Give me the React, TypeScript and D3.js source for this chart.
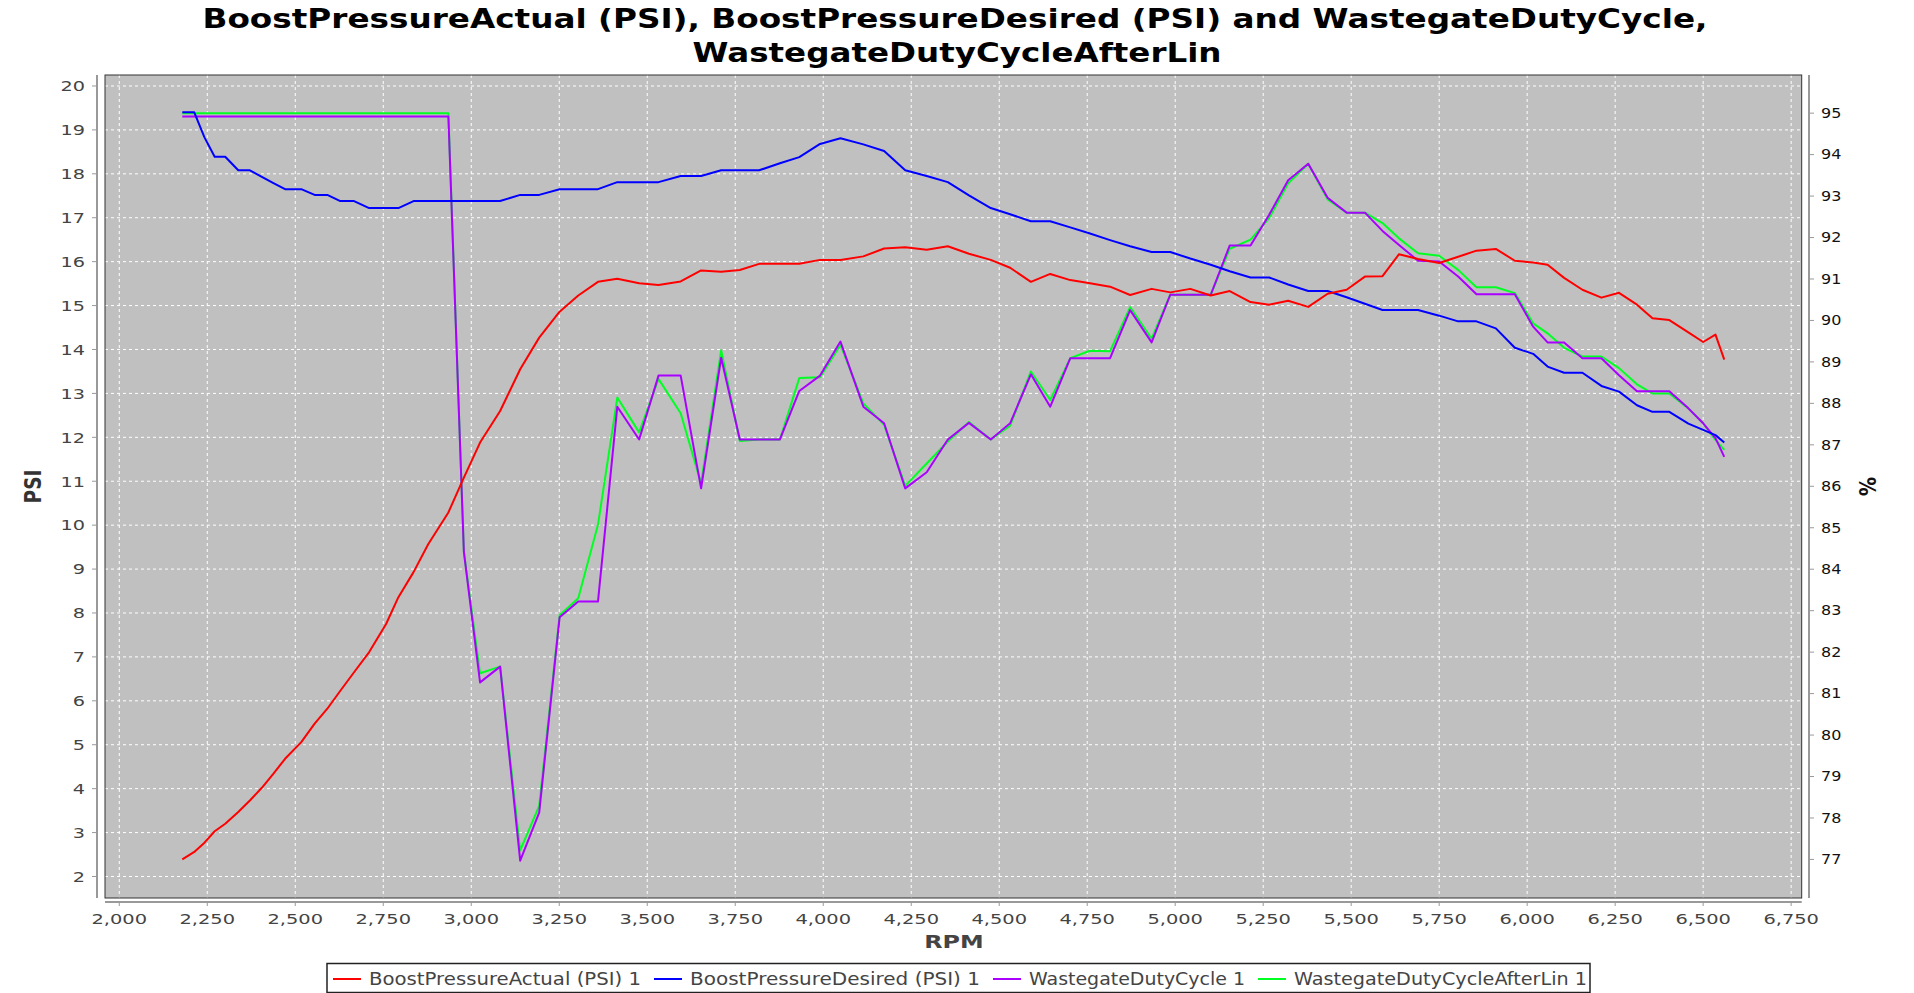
import * as d3 from "d3";
import * as React from "react";

// engine speed samples shared by every series
const rpm = [
  2179, 2213, 2242, 2271, 2301, 2338, 2371, 2405, 2438, 2471,
  2517, 2555, 2591, 2628, 2667, 2710, 2758, 2793, 2836, 2878,
  2935, 2979, 3025, 3082, 3139, 3193, 3251, 3304, 3360, 3415,
  3477, 3532, 3595, 3653, 3710, 3763, 3818, 3877, 3932, 3991,
  4049, 4114, 4173, 4233, 4294, 4354, 4414, 4476, 4531, 4590,
  4645, 4702, 4758, 4815, 4872, 4933, 4986, 5043, 5101, 5155,
  5214, 5267, 5321, 5378, 5433, 5487, 5539, 5589, 5636, 5690,
  5750, 5804, 5856, 5911, 5965, 6017, 6058, 6105, 6157, 6211,
  6261, 6312, 6356, 6404, 6458, 6500, 6535, 6560,
];

const boostActual = [
  2.39, 2.56, 2.77, 3.03, 3.2, 3.47, 3.73, 4.02, 4.34, 4.68,
  5.06, 5.48, 5.82, 6.23, 6.65, 7.11, 7.75, 8.36, 8.93, 9.57,
  10.29, 11.08, 11.88, 12.6, 13.55, 14.27, 14.86, 15.23, 15.54, 15.61,
  15.51, 15.47, 15.55, 15.8, 15.77, 15.81, 15.95, 15.95, 15.95, 16.04,
  16.04, 16.12, 16.3, 16.33, 16.27, 16.35, 16.18, 16.04, 15.86, 15.54,
  15.72, 15.58, 15.51, 15.43, 15.24, 15.38, 15.3, 15.38, 15.23, 15.33,
  15.08, 15.02, 15.11, 14.97, 15.27, 15.36, 15.66, 15.67, 16.17, 16.06,
  15.97, 16.11, 16.25, 16.29, 16.02, 15.98, 15.93, 15.63, 15.36, 15.18,
  15.29, 15.02, 14.71, 14.67, 14.39, 14.17, 14.34, 13.77,
];

const boostDesired = [
  19.4, 19.4, 18.83, 18.39, 18.39, 18.08, 18.08, 17.93, 17.79, 17.65,
  17.65, 17.52, 17.52, 17.38, 17.38, 17.22, 17.22, 17.22, 17.38, 17.38,
  17.38, 17.38, 17.38, 17.38, 17.52, 17.52, 17.65, 17.65, 17.65, 17.81,
  17.81, 17.81, 17.95, 17.95, 18.08, 18.08, 18.08, 18.24, 18.38, 18.68,
  18.81, 18.67, 18.52, 18.08, 17.95, 17.81, 17.51, 17.22, 17.08, 16.92,
  16.92, 16.78, 16.64, 16.49, 16.35, 16.22, 16.22, 16.07, 15.93, 15.78,
  15.64, 15.64, 15.48, 15.33, 15.33, 15.19, 15.04, 14.9, 14.9, 14.9,
  14.77, 14.64, 14.64, 14.48, 14.04, 13.9, 13.61, 13.47, 13.47, 13.17,
  13.04, 12.73, 12.58, 12.58, 12.31, 12.17, 12.05, 11.88,
];

const wastegateDuty = [
  94.92, 94.92, 94.92, 94.92, 94.92, 94.92, 94.92, 94.92, 94.92, 94.92,
  94.92, 94.92, 94.92, 94.92, 94.92, 94.92, 94.92, 94.92, 94.92, 94.92,
  94.92, 84.42, 81.27, 81.65, 76.97, 78.13, 82.84, 83.22, 83.22, 87.92,
  87.13, 88.67, 88.67, 85.95, 89.1, 87.13, 87.13, 87.13, 88.3, 88.67,
  89.49, 87.92, 87.52, 85.95, 86.34, 87.13, 87.53, 87.13, 87.52, 88.7,
  87.92, 89.09, 89.09, 89.09, 90.25, 89.47, 90.62, 90.62, 90.62, 91.81,
  91.81, 92.55, 93.38, 93.78, 92.96, 92.6, 92.6, 92.16, 91.82, 91.44,
  91.42, 91.06, 90.63, 90.63, 90.63, 89.85, 89.47, 89.47, 89.09, 89.09,
  88.68, 88.29, 88.29, 88.29, 87.88, 87.52, 87.16, 86.71,
];

const wastegateAfterLin = [
  95.0, 95.0, 95.0, 95.0, 95.0, 95.0, 95.0, 95.0, 95.0, 95.0,
  95.0, 95.0, 95.0, 95.0, 95.0, 95.0, 95.0, 95.0, 95.0, 95.0,
  95.0, 84.42, 81.49, 81.65, 77.22, 78.29, 82.89, 83.3, 85.07, 88.14,
  87.3, 88.59, 87.76, 86.07, 89.28, 87.09, 87.13, 87.13, 88.61, 88.63,
  89.41, 88.0, 87.48, 86.01, 86.55, 87.08, 87.55, 87.13, 87.46, 88.77,
  88.08, 89.09, 89.27, 89.26, 90.32, 89.56, 90.62, 90.62, 90.62, 91.73,
  91.95, 92.47, 93.31, 93.78, 92.92, 92.6, 92.6, 92.35, 91.98, 91.62,
  91.56, 91.22, 90.8, 90.8, 90.66, 89.93, 89.69, 89.34, 89.13, 89.13,
  88.85, 88.46, 88.24, 88.24, 87.88, 87.52, 87.12, 86.88,
];

const xTicks = d3.range(2000, 6751, 250);
const psiTicks = d3.range(2, 21);
const pctTicks = d3.range(77, 96);

const titleLines = [
  "BoostPressureActual (PSI), BoostPressureDesired (PSI) and WastegateDutyCycle,",
  "WastegateDutyCycleAfterLin",
];

// drawn back to front, like the original renderer does
const series = [
  { name: "WastegateDutyCycleAfterLin 1", values: wastegateAfterLin, color: "#00ff22", axis: "right" },
  { name: "WastegateDutyCycle 1", values: wastegateDuty, color: "#aa00ff", axis: "right" },
  { name: "BoostPressureDesired (PSI) 1", values: boostDesired, color: "#0000ff", axis: "left" },
  { name: "BoostPressureActual (PSI) 1", values: boostActual, color: "#ff0000", axis: "left" },
];

const W = 1914;
const H = 993;
const plot = { left: 105, right: 1801.7, top: 75, bottom: 898 };
const font = "DejaVu Sans, Verdana, sans-serif";

export default function App() {
  const x = d3.scaleLinear().domain([1959.4, 6780]).range([plot.left, plot.right]);
  const yL = d3.scaleLinear().domain([1.51, 20.25]).range([plot.bottom, plot.top]);
  const yR = d3.scaleLinear().domain([76.07, 95.92]).range([plot.bottom, plot.top]);
  const fmt = d3.format(",");

  const lineFor = (vals: number[], axis: string) => {
    const y = axis === "left" ? yL : yR;
    return d3
      .line<number>()
      .x((_, i) => x(rpm[i]))
      .y((v) => y(v))(vals) as string;
  };

  // legend order as in the original
  const legendItems = [series[3], series[2], series[1], series[0]];
  const legendWidths = [272, 290, 216, 293];
  let lx = 333;
  const legendPos = legendItems.map((s, i) => {
    const p = { s, x: lx, w: legendWidths[i] };
    lx += 28 + 8 + legendWidths[i] + 13;
    return p;
  });

  return (
    <>
      <style>{`body{margin:0;background:#fff}`}</style>
      <svg width={W} height={H} style={{ display: "block" }} fontFamily={font}>
        <rect width={W} height={H} fill="#fff" />

        {/* title */}
        <text x={955} y={28} textAnchor="middle" fontSize={27} fontWeight="bold"
          textLength={1505} lengthAdjust="spacingAndGlyphs">{titleLines[0]}</text>
        <text x={957} y={62} textAnchor="middle" fontSize={27} fontWeight="bold"
          textLength={529} lengthAdjust="spacingAndGlyphs">{titleLines[1]}</text>

        {/* plot background and grid */}
        <rect x={plot.left} y={plot.top} width={plot.right - plot.left} height={plot.bottom - plot.top} fill="#c0c0c0" />
        <g stroke="#fff" strokeWidth={1} strokeDasharray="3,3">
          {xTicks.map((t) => (
            <line key={"gx" + t} x1={x(t)} x2={x(t)} y1={plot.top} y2={plot.bottom} />
          ))}
          {psiTicks.map((t) => (
            <line key={"gy" + t} x1={plot.left} x2={plot.right} y1={yL(t)} y2={yL(t)} />
          ))}
        </g>

        {/* series */}
        <g fill="none" strokeWidth={2} strokeLinejoin="round">
          {series.map((s) => (
            <path key={s.name} d={lineFor(s.values, s.axis)} stroke={s.color} />
          ))}
        </g>
        <rect x={plot.left} y={plot.top} width={plot.right - plot.left} height={plot.bottom - plot.top}
          fill="none" stroke="#333" strokeWidth={1} />

        {/* x axis */}
        <line x1={plot.left} x2={plot.right} y1={902} y2={902} stroke="#999" strokeWidth={2} />
        {xTicks.map((t) => (
          <g key={"xt" + t}>
            <line x1={x(t)} x2={x(t)} y1={902} y2={906} stroke="#999" />
            <text transform={`translate(${x(t)},924) scale(1.32,1)`} textAnchor="middle" fontSize={14.7} fill="#444">
              {fmt(t)}
            </text>
          </g>
        ))}
        <text transform="translate(954,948) scale(1.4,1)" textAnchor="middle" fontSize={17} fontWeight="bold" fill="#444">RPM</text>

        {/* left axis */}
        <line x1={97} x2={97} y1={plot.top} y2={plot.bottom} stroke="#999" strokeWidth={2} />
        {psiTicks.map((t) => (
          <g key={"yl" + t}>
            <line x1={92} x2={97} y1={yL(t)} y2={yL(t)} stroke="#999" />
            <text transform={`translate(85,${yL(t) + 5.3}) scale(1.31,1)`} textAnchor="end" fontSize={14.7} fill="#444">
              {t}
            </text>
          </g>
        ))}
        <text transform={`translate(41,${(plot.top + plot.bottom) / 2}) rotate(-90) scale(1,1.22)`}
          textAnchor="middle" fontSize={18.5} fontWeight="bold" fill="#333">PSI</text>

        {/* right axis */}
        <line x1={1809} x2={1809} y1={plot.top} y2={plot.bottom} stroke="#999" strokeWidth={2} />
        {pctTicks.map((t) => (
          <g key={"yr" + t}>
            <line x1={1809} x2={1814} y1={yR(t)} y2={yR(t)} stroke="#999" />
            <text transform={`translate(1821,${yR(t) + 4.8}) scale(1.2,1)`} fontSize={13.3} fill="#111">
              {t}
            </text>
          </g>
        ))}
        <text transform={`translate(1859,${(plot.top + plot.bottom) / 2}) rotate(90) scale(1,1.22)`}
          textAnchor="middle" fontSize={19} fontWeight="bold" fill="#111">%</text>

        {/* legend */}
        <rect x={327} y={963.5} width={1263} height={29} fill="#fff" stroke="#222" strokeWidth={1.5} />
        {legendPos.map((p) => (
          <g key={"lg" + p.s.name}>
            <line x1={p.x} x2={p.x + 28} y1={979} y2={979} stroke={p.s.color} strokeWidth={2} />
            <text x={p.x + 36} y={985} fontSize={18.3} fill="#444" textLength={p.w} lengthAdjust="spacingAndGlyphs">
              {p.s.name}
            </text>
          </g>
        ))}
      </svg>
    </>
  );
}
